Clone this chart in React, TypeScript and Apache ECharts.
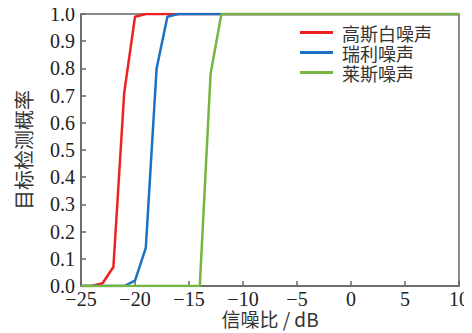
import React, { useEffect, useRef } from "react";
import * as echarts from "echarts";

const seriesNames = ["高斯白噪声", "瑞利噪声", "莱斯噪声"];
const colors = ["#ee2222", "#1a72c4", "#76b640"];

const gaussX = [-25, -24, -23, -22, -21, -20, -19, 10];
const gaussY = [0, 0, 0.01, 0.07, 0.71, 0.99, 1, 1];

const rayleighX = [-25, -21, -20, -19, -18, -17, -16, 10];
const rayleighY = [0, 0, 0.02, 0.14, 0.8, 0.99, 1, 1];

const riceX = [-25, -14, -13, -12, 10];
const riceY = [0, 0, 0.78, 1, 1];

const xTicks = { min: -25, max: 10, interval: 5 };
const yTicks = { min: 0, max: 1, interval: 0.1 };

const zip = (xs: number[], ys: number[]) => xs.map((x, i) => [x, ys[i]]);

export default function App() {
  const ref = useRef<HTMLDivElement>(null);
  useEffect(() => {
    if (!ref.current) return;
    const chart = echarts.init(ref.current, null, { renderer: "svg" });
    const serif = "'Liberation Serif', 'Times New Roman', serif";
    const cjk = "'Noto Sans CJK SC', sans-serif";
    const axisColor = "#666";
    chart.setOption({
      animation: false,
      backgroundColor: "#fff",
      grid: {
        left: 81,
        right: 13,
        top: 14,
        bottom: 47,
        show: true,
        borderColor: axisColor,
        borderWidth: 1.5,
        containLabel: false,
        outerBoundsMode: "none",
      },
      legend: {
        orient: "vertical",
        left: 300,
        top: 23,
        itemWidth: 33,
        itemHeight: 3,
        itemGap: 1,
        padding: 0,
        icon: "rect",
        textStyle: { fontFamily: cjk, fontSize: 18, color: "#333", lineHeight: 19, padding: [0, 0, 0, 4] },
        data: seriesNames,
      },
      xAxis: {
        type: "value",
        min: xTicks.min,
        max: xTicks.max,
        interval: xTicks.interval,
        name: "信噪比 / dB",
        nameLocation: "middle",
        nameGap: 23,
        nameMoveOverlap: false,
        nameTextStyle: { fontFamily: cjk, fontSize: 19, color: "#333", lineHeight: 19, verticalAlign: "top" },
        axisLine: { onZero: false, lineStyle: { color: axisColor, width: 1.5 } },
        axisTick: { inside: true, length: 5, lineStyle: { color: axisColor, width: 1.5 } },
        splitLine: { show: false },
        axisLabel: {
          fontFamily: serif,
          fontSize: 20,
          lineHeight: 16,
          color: "#222",
          margin: 5,
          formatter: (v: number) => (v < 0 ? "\u2212" + Math.abs(v) : String(v)),
        },
      },
      yAxis: {
        type: "value",
        min: yTicks.min,
        max: yTicks.max,
        interval: yTicks.interval,
        name: "目标检测概率",
        nameLocation: "middle",
        nameGap: 48,
        nameMoveOverlap: false,
        nameTextStyle: { fontFamily: cjk, fontSize: 20, color: "#333" },
        axisLine: { onZero: false, lineStyle: { color: axisColor, width: 1.5 } },
        axisTick: { inside: true, length: 5, lineStyle: { color: axisColor, width: 1.5 } },
        splitLine: { show: false },
        axisLabel: {
          fontFamily: serif,
          fontSize: 20,
          lineHeight: 16,
          color: "#222",
          margin: 6,
          formatter: (v: number) => v.toFixed(1),
        },
      },
      series: [
        { name: seriesNames[0], data: zip(gaussX, gaussY) },
        { name: seriesNames[1], data: zip(rayleighX, rayleighY) },
        { name: seriesNames[2], data: zip(riceX, riceY) },
      ].map((s, i) => ({
        ...s,
        type: "line",
        symbol: "none",
        color: colors[i],
        lineStyle: { color: colors[i], width: 2.5 },
        itemStyle: { color: colors[i] },
        clip: true,
      })),
    });
    return () => chart.dispose();
  }, []);
  return <div ref={ref} style={{ width: 472, height: 333, marginLeft: -8, marginTop: -8 }} />;
}
